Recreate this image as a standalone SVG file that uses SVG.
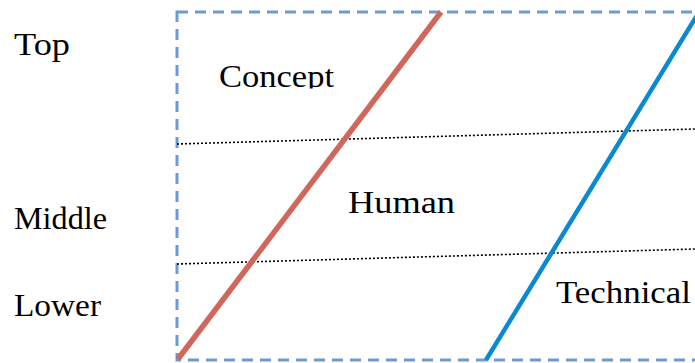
<svg xmlns="http://www.w3.org/2000/svg" width="695" height="363" viewBox="0 0 695 363">
<defs>
<style>
.dot{stroke:#000;stroke-width:1.6;stroke-dasharray:2 2;fill:none}
</style>
<clipPath id="cclip"><rect x="200" y="50" width="150" height="38.5"/></clipPath>
</defs>
<rect width="695" height="363" fill="#fff"/>
<g id="frame">
<rect x="177" y="12" width="530" height="348" fill="none" stroke="#6a9bd1" stroke-width="3" stroke-dasharray="11 7"/>
</g>
<g id="connectors">
<line class="dot" x1="177" y1="144" x2="695" y2="129"/>
<line class="dot" x1="177" y1="264" x2="695" y2="249"/>
<line x1="178" y1="359" x2="441" y2="12" stroke="#d0665c" stroke-width="5.5"/>
<line x1="486" y1="360" x2="699" y2="12" stroke="#0a88d0" stroke-width="4.5"/>
</g>
<g font-family="Liberation Serif, DejaVu Serif, serif" font-size="31" fill="#000">
<g id="top"><text x="14" y="55" textLength="56" lengthAdjust="spacingAndGlyphs">Top</text></g>
<g id="middle"><text x="14" y="229" textLength="93" lengthAdjust="spacingAndGlyphs">Middle</text></g>
<g id="lower"><text x="14" y="316" textLength="87" lengthAdjust="spacingAndGlyphs">Lower</text></g>
<g id="concept"><text x="219" y="87" clip-path="url(#cclip)" textLength="115" lengthAdjust="spacingAndGlyphs">Concept</text></g>
<g id="human"><text x="348" y="213" textLength="107" lengthAdjust="spacingAndGlyphs">Human</text></g>
<g id="technical"><text x="556" y="303" textLength="135" lengthAdjust="spacingAndGlyphs">Technical</text></g>
</g>
</svg>
